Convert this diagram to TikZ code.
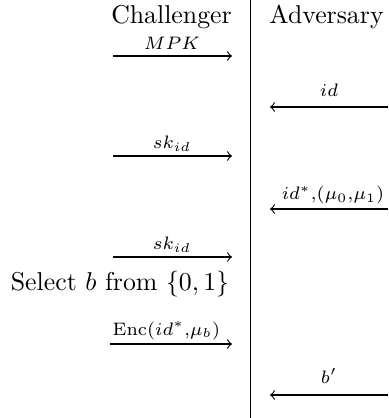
\documentclass[tikz,border=0pt]{standalone}
\begin{document}
\begin{tikzpicture}[x=0.3876pt,y=-0.3876pt,
  party/.style={anchor=base,inner sep=0pt,font=\fontsize{10}{12}\selectfont},
  msg/.style={anchor=base,inner sep=0pt,font=\fontsize{7.2}{8.5}\selectfont},
  flow/.style={->,line width=0.45pt},
  divider/.style={line width=0.45pt}]
\useasboundingbox (0,0) rectangle (388,418);
% parties
\node[party] (chal) at (171.5,24) {Challenger};
\node[party] (adv) at (326.5,24) {Adversary};
\coordinate (top) at (250.5,0);
\coordinate (bot) at (250.5,418);
\draw[divider] (top) -- (bot);
% MPK
\coordinate (a1s) at (113,56); \coordinate (a1e) at (232,56);
\draw[flow] (a1s) -- (a1e);
\node[msg] (l1) at (172,50) {$MPK$};
% id
\coordinate (a2s) at (388,107); \coordinate (a2e) at (270,107);
\draw[flow] (a2s) -- (a2e);
\node[msg] (l2) at (329,97) {$id$};
% sk_id
\coordinate (a3s) at (113,156); \coordinate (a3e) at (232,156);
\draw[flow] (a3s) -- (a3e);
\node[msg] (l3) at (172,149) {$sk_{id}$};
% id*, (mu0,mu1)
\coordinate (a4s) at (388,209); \coordinate (a4e) at (270,209);
\draw[flow] (a4s) -- (a4e);
\node[msg] (l4) at (333,200) {$id^{*}{,}(\mu_0{,}\mu_1)$};
% sk_id
\coordinate (a5s) at (113,257); \coordinate (a5e) at (232,257);
\draw[flow] (a5s) -- (a5e);
\node[msg] (l5) at (172,250) {$sk_{id}$};
% select
\node[party] (sel) at (120,290.5) {Select $b$ from $\{0,1\}$};
% Enc
\coordinate (a6s) at (110,344); \coordinate (a6e) at (232,344);
\draw[flow] (a6s) -- (a6e);
\node[msg] (l6) at (166.5,335) {$\mathrm{Enc}(id^{*}{,}\mu_b)$};
% b'
\coordinate (a7s) at (388,395); \coordinate (a7e) at (270,395);
\draw[flow] (a7s) -- (a7e);
\node[msg] (l7) at (329,383) {$b'$};
\end{tikzpicture}
\end{document}
